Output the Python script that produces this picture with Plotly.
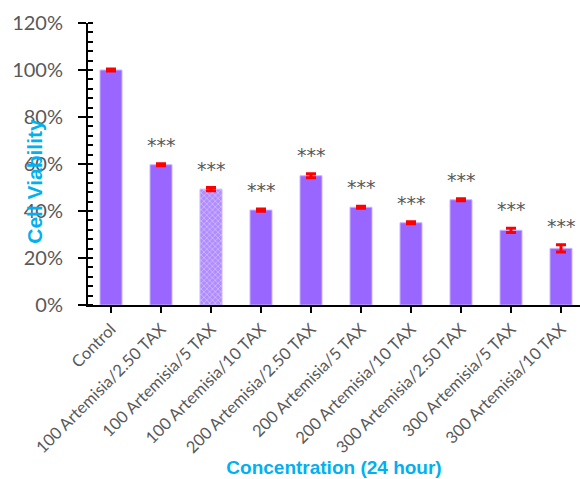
import plotly.graph_objects as go

# Cell viability after 24 h treatment
categories = [
    "Control",
    "100 Artemisia/2.50 TAX",
    "100 Artemisia/5 TAX",
    "100 Artemisia/10 TAX",
    "200 Artemisia/2.50 TAX",
    "200 Artemisia/5 TAX",
    "200 Artemisia/10 TAX",
    "300 Artemisia/2.50 TAX",
    "300 Artemisia/5 TAX",
    "300 Artemisia/10 TAX",
]
viability = [1.000, 0.597, 0.493, 0.404, 0.550, 0.416, 0.350, 0.448, 0.318, 0.241]
errors = [0.004, 0.004, 0.007, 0.005, 0.009, 0.004, 0.004, 0.004, 0.009, 0.015]
significance = ["", "***", "***", "***", "***", "***", "***", "***", "***", "***"]

bar_color = "#9966ff"
gray = "#595959"
cyan = "#00b0f0"
font_family = "Lato, Open Sans, sans-serif"

# patterned fill only on the third group
shapes = ["", "", "x", "", "", "", "", "", "", ""]

fig = go.Figure()
fig.add_trace(go.Bar(
    x=categories,
    y=viability,
    width=0.44,
    marker=dict(
        color=bar_color,
        line=dict(color="#c9b5ff", width=1),
        pattern=dict(shape=shapes, fgcolor="white", bgcolor="#b08cff",
                     size=4, solidity=0.3, fillmode="overlay"),
    ),
    error_y=dict(type="data", array=errors, color="#ff0000", thickness=3, width=5),
    showlegend=False,
))

for cat, v, e, s in zip(categories, viability, errors, significance):
    if s:
        fig.add_annotation(x=cat, y=v + e, text=s, showarrow=False,
                           yanchor="bottom", yshift=6,
                           font=dict(family="DejaVu Sans, sans-serif", size=19, color=gray))

fig.add_annotation(xref="paper", yref="paper", x=-0.108, y=0.44,
                   text="<b>Cell Viability</b>", textangle=-90, showarrow=False,
                   xanchor="center", yanchor="middle",
                   font=dict(family="Liberation Sans, Arial, sans-serif", size=21, color=cyan))

fig.update_layout(
    width=580, height=479,
    margin=dict(l=88, r=0, t=23, b=174),
    paper_bgcolor="white", plot_bgcolor="white",
    font=dict(family=font_family, color=gray),
    xaxis=dict(
        range=[-0.46, 9.38],
        showline=True, linecolor="black", linewidth=2,
        ticks="outside", ticklen=6, tickwidth=2, tickcolor="black",
        tickangle=-45, tickfont=dict(size=16.5, color=gray),
        showgrid=False,
        title=dict(text="<b>Concentration (24 hour)</b>",
                   font=dict(family="Liberation Sans, Arial, sans-serif", size=19, color=cyan),
                   standoff=2),
    ),
    yaxis=dict(
        range=[0, 1.2], dtick=0.2, tickformat=".0%",
        showline=True, linecolor="black", linewidth=2,
        ticks="outside", ticklen=8, tickwidth=2, tickcolor="black",
        tickfont=dict(size=20, color=gray),
        ticklabelstandoff=11,
        showgrid=False, zeroline=False,
        minor=dict(dtick=0.04, ticks="inside", ticklen=5, tickwidth=2, tickcolor="black"),
    ),
)

fig.write_html("out.html")
